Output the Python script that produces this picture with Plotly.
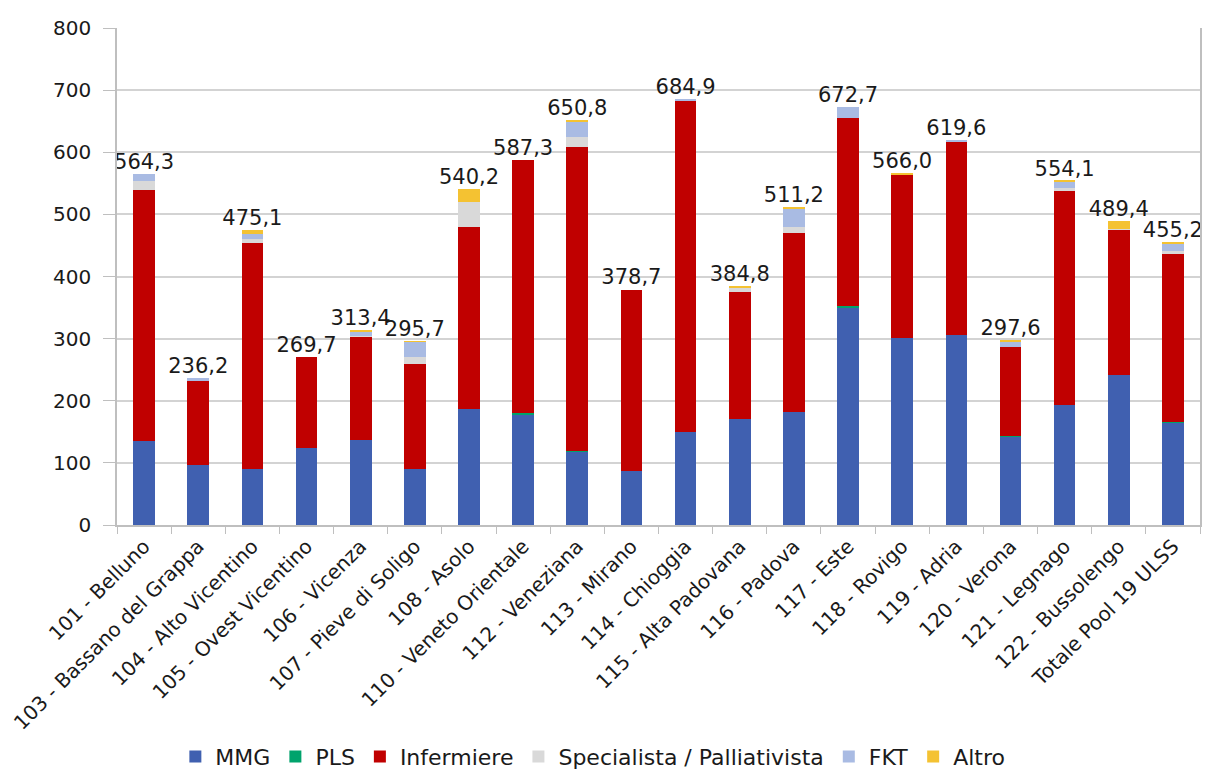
import plotly.graph_objects as go

categories = ["101 - Belluno", "103 - Bassano del Grappa", "104 - Alto Vicentino",
              "105 - Ovest Vicentino", "106 - Vicenza", "107 - Pieve di Soligo",
              "108 - Asolo", "110 - Veneto Orientale", "112 - Veneziana", "113 - Mirano",
              "114 - Chioggia", "115 - Alta Padovana", "116 - Padova", "117 - Este",
              "118 - Rovigo", "119 - Adria", "120 - Verona", "121 - Legnago",
              "122 - Bussolengo", "Totale Pool 19 ULSS"]

mmg = [135, 97, 90, 124, 137, 90, 187, 178, 118, 87, 150, 170, 182, 350, 301, 306, 143, 193, 241, 165]
pls = [0, 0, 0, 0, 0, 0, 0, 2, 0.5, 0, 0, 0, 0, 2, 0, 0, 1, 0, 0, 1]
infermiere = [404, 136, 364, 145.7, 166, 169, 293, 407.3, 490.5, 291.7, 533, 205, 288, 303, 263.7, 312, 143, 345, 234, 270]
specialista = [14, 0, 6, 0, 2, 11, 40, 0, 15, 0, 0, 7, 10, 0, 0, 0, 0, 4, 2, 5]
fkt = [11.3, 3.2, 8, 0, 7, 25, 0, 0, 26, 0, 1.9, 0, 30, 17.7, 0, 1.6, 9, 11, 0, 12]
altro = [0, 0, 7.1, 0, 1.4, 0.7, 20.2, 0, 0.8, 0, 0, 2.8, 1.2, 0, 1.3, 0, 1.6, 1.1, 12.4, 2.2]
totals = [564.3, 236.2, 475.1, 269.7, 313.4, 295.7, 540.2, 587.3, 650.8, 378.7,
          684.9, 384.8, 511.2, 672.7, 566.0, 619.6, 297.6, 554.1, 489.4, 455.2]

series = [
    ("MMG", mmg, "#4060B0"),
    ("PLS", pls, "#00A36C"),
    ("Infermiere", infermiere, "#C00000"),
    ("Specialista / Palliativista", specialista, "#D9D9D9"),
    ("FKT", fkt, "#A9BBE3"),
    ("Altro", altro, "#F4C232"),
]

FONT = "DejaVu Sans"
fig = go.Figure()
for name, vals, col in series:
    fig.add_trace(go.Bar(x=categories, y=vals, name=name, marker_color=col,
                         marker_line_width=0, hoverinfo="x+y+name"))

fig.add_trace(go.Scatter(
    x=categories, y=totals, mode="text",
    text=[f"{v:.1f}".replace(".", ",") for v in totals],
    textposition="top center", textfont=dict(family=FONT, size=21, color="#1a1a1a"),
    showlegend=False, hoverinfo="skip", cliponaxis=False))

fig.update_layout(
    width=1205, height=769,
    barmode="stack", bargap=0.6,
    paper_bgcolor="white", plot_bgcolor="white",
    margin=dict(l=117, r=5, t=28, b=244),
    font=dict(family=FONT, size=20, color="#1a1a1a"),
    legend=dict(orientation="h", x=0.492, xref="container", xanchor="center",
                y=0.016, yref="container", yanchor="middle",
                font=dict(family=FONT, size=22), traceorder="normal",
                itemwidth=30, tracegroupgap=0),
)
fig.update_xaxes(type="category", range=[-0.5, len(categories) - 0.5], tickangle=-45,
                 showline=True, linecolor="#BFBFBF",
                 linewidth=1.5, ticks="outside", tickson="boundaries", ticklen=7,
                 tickcolor="#BFBFBF", tickfont=dict(family=FONT, size=20), showgrid=False,
                 automargin=False)
fig.update_yaxes(range=[0, 800], dtick=100, showgrid=True, gridcolor="#D3D3D3", gridwidth=1.5,
                 showline=True, linecolor="#BFBFBF", linewidth=1.5, mirror=True,
                 ticks="outside", ticklen=12, tickcolor="#BFBFBF",
                 tickfont=dict(family=FONT, size=20), zeroline=False, automargin=False,
                 ticklabelstandoff=8)

fig.write_html("out.html", config={"displayModeBar": False},
               post_script="document.body.style.margin='0';document.body.style.overflow='hidden';")
